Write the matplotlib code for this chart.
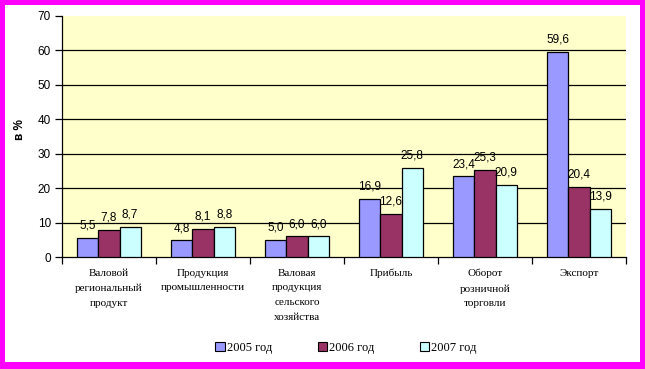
import matplotlib
matplotlib.use("Agg")
import matplotlib.pyplot as plt
import numpy as np
from matplotlib.patches import Rectangle, Patch

categories = ["Валовой\nрегиональный\nпродукт", "Продукция\nпромышленности",
              "Валовая\nпродукция\nсельского\nхозяйства", "Прибыль",
              "Оборот\nрозничной\nторговли", "Экспорт"]
series_names = ["2005 год", "2006 год", "2007 год"]
v2005 = [5.5, 4.8, 5.0, 16.9, 23.4, 59.6]
v2006 = [7.8, 8.1, 6.0, 12.6, 25.3, 20.4]
v2007 = [8.7, 8.8, 6.0, 25.8, 20.9, 13.9]
yticks = [0, 10, 20, 30, 40, 50, 60, 70]
colors = ["#9999FF", "#993366", "#CCFFFF"]

W, H = 645, 369
fig = plt.figure(figsize=(W / 100, H / 100), dpi=100)
fig.patch.set_facecolor("white")

ax = fig.add_axes([62 / W, 1 - 257 / H, 564 / W, 241 / H])
ax.set_facecolor("#FFFFCC")

x = np.arange(len(categories))
bw = 0.225
for i, (vals, c, name) in enumerate(zip([v2005, v2006, v2007], colors, series_names)):
    pos = x + (i - 1) * bw
    ax.bar(pos, vals, width=bw, color=c, edgecolor="black", linewidth=0.9,
           label=name, zorder=3)
    for p, v in zip(pos, vals):
        ax.annotate(f"{v:.1f}".replace(".", ","), (p, v), xytext=(0, 4.5),
                    textcoords="offset points", ha="center", va="bottom",
                    fontsize=8.5, family="Liberation Sans", zorder=4)

ax.set_xlim(-0.5, len(categories) - 0.5)
ax.set_ylim(0, 70)
ax.set_yticks(yticks)
ax.set_yticklabels([str(t) for t in yticks], fontsize=8.5, family="Liberation Sans")
for t in yticks[1:-1]:
    ax.axhline(t, color="black", linewidth=0.9, zorder=1)

ax.set_xticks(np.arange(-0.5, len(categories), 1.0))
ax.set_xticklabels([])
ax.tick_params(axis="x", length=5, width=0.9, direction="out")
ax.tick_params(axis="y", length=5, width=0.9, direction="out", pad=3)
for k in ["top", "right"]:
    ax.spines[k].set_visible(False)
for k in ["left", "bottom"]:
    ax.spines[k].set_linewidth(0.9)

for xi, lab in zip(x, categories):
    ax.annotate(lab, (xi, 0), xytext=(0, -8.5), textcoords="offset points",
                ha="center", va="top", fontsize=8, family="Liberation Serif",
                linespacing=1.8, annotation_clip=False)

fig.text(20 / W, 1 - 130 / H, "в %", rotation=90, ha="center", va="center",
         fontsize=8.5, fontweight="bold", family="Liberation Sans")

handles = [Patch(facecolor=c, edgecolor="black", linewidth=0.8) for c in colors]
fig.legend(handles, series_names, loc="center", bbox_to_anchor=(346 / W, 1 - 348 / H),
           ncol=3, frameon=False, handlelength=0.75, handleheight=0.75,
           handletextpad=0.15, columnspacing=3.65,
           prop={"family": "Liberation Serif", "size": 9})

m = "#FF00FF"
for (x0, y0, w, h) in [(0, 0, 5, H), (W - 5, 0, 5, H), (0, 0, W, 5), (0, H - 7, W, 7)]:
    fig.patches.append(Rectangle((x0 / W, 1 - (y0 + h) / H), w / W, h / H,
                                 transform=fig.transFigure, facecolor=m,
                                 edgecolor="none", zorder=10))

fig.savefig("out.png", dpi=100, facecolor="white")
